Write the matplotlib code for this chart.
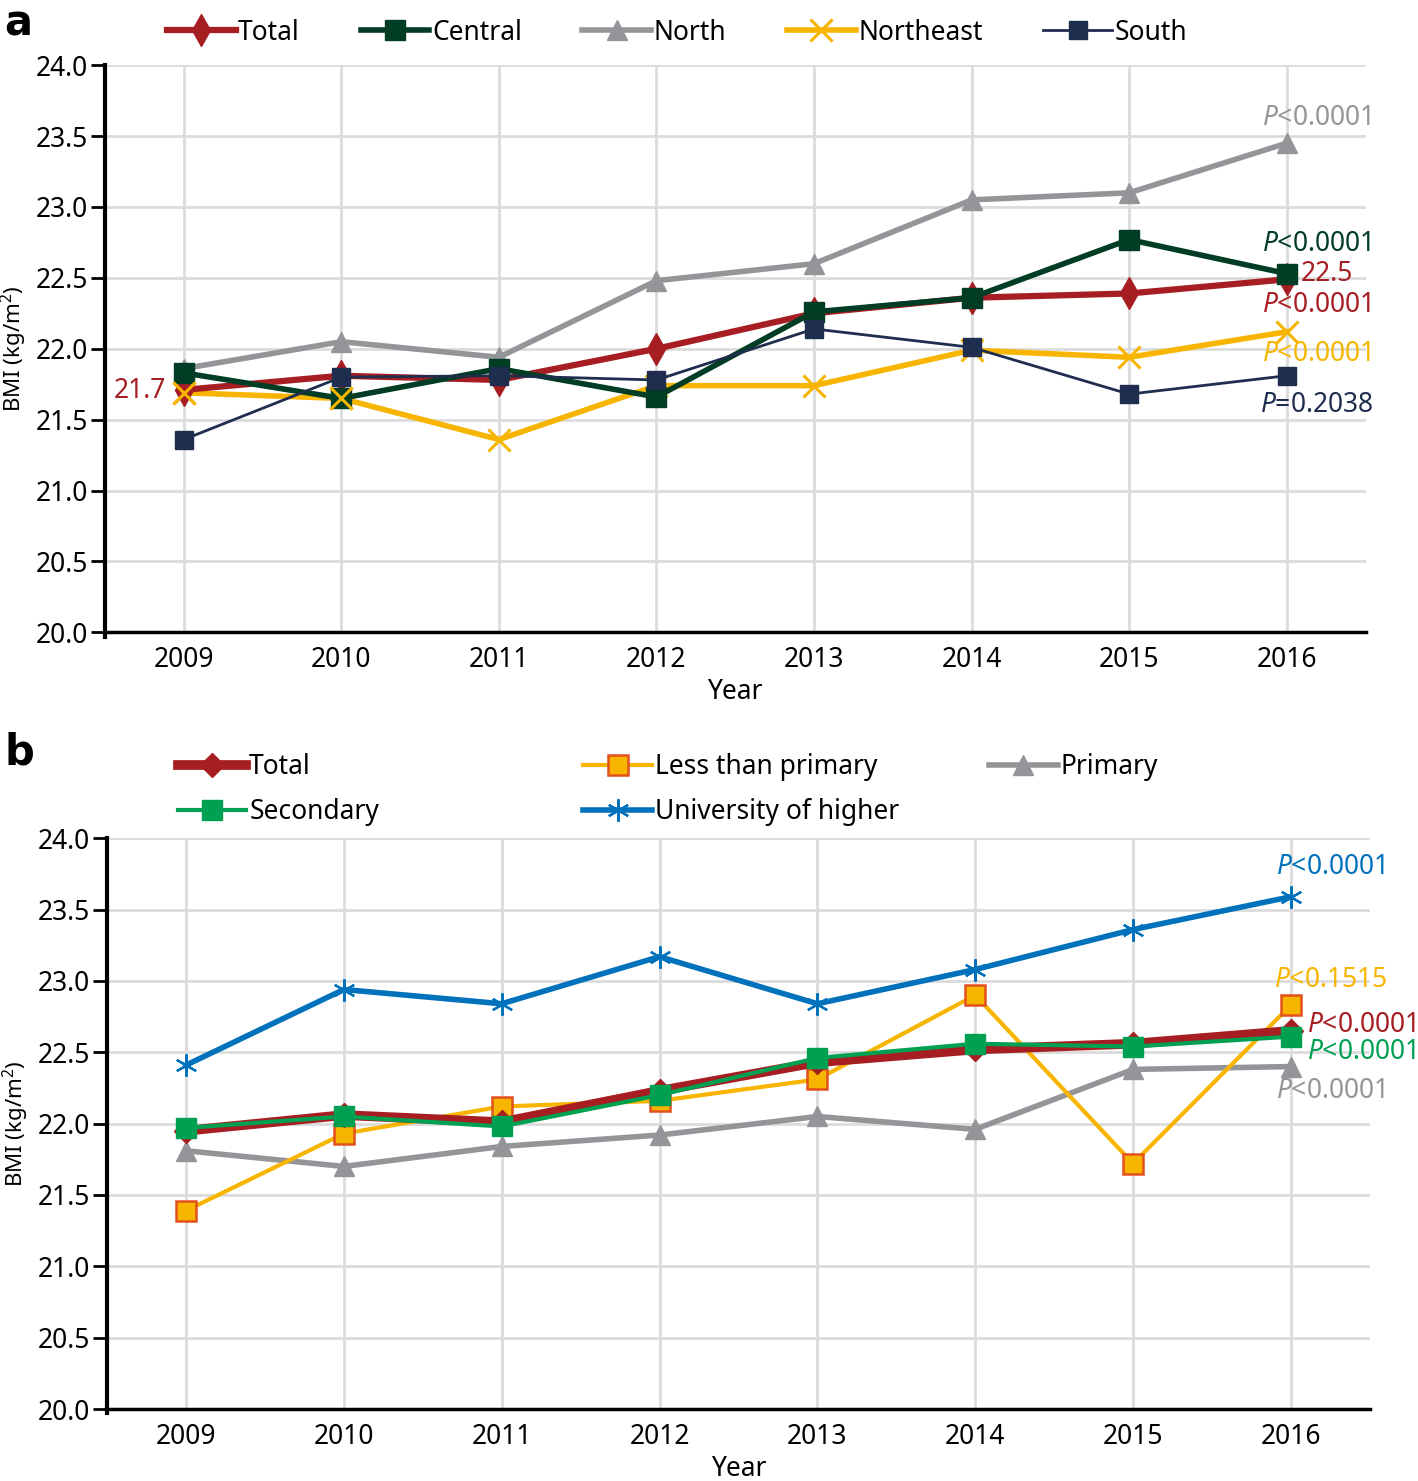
import matplotlib.pyplot as plt
from matplotlib.lines import Line2D

plt.rcParams['font.family'] = ['Noto Sans', 'DejaVu Sans']
plt.rcParams['mathtext.fontset'] = 'custom'
plt.rcParams['mathtext.rm'] = 'Noto Sans'
plt.rcParams['mathtext.it'] = 'Noto Sans:italic'

years = [2009, 2010, 2011, 2012, 2013, 2014, 2015, 2016]
yticks = [20.0, 20.5, 21.0, 21.5, 22.0, 22.5, 23.0, 23.5, 24.0]

# panel a: region
total_a = [21.71, 21.81, 21.78, 22.00, 22.25, 22.36, 22.39, 22.49]
central = [21.83, 21.65, 21.86, 21.66, 22.26, 22.36, 22.77, 22.53]
north = [21.86, 22.05, 21.94, 22.48, 22.60, 23.05, 23.10, 23.45]
northeast = [21.69, 21.65, 21.36, 21.74, 21.74, 21.99, 21.94, 22.12]
south = [21.36, 21.80, 21.81, 21.78, 22.14, 22.01, 21.68, 21.81]

# panel b: education
total_b = [21.95, 22.06, 22.01, 22.23, 22.43, 22.52, 22.56, 22.65]
less_primary = [21.39, 21.93, 22.12, 22.16, 22.31, 22.90, 21.72, 22.83]
primary = [21.81, 21.70, 21.84, 21.92, 22.05, 21.96, 22.38, 22.40]
secondary = [21.97, 22.05, 21.98, 22.20, 22.46, 22.56, 22.54, 22.61]
university = [22.41, 22.94, 22.84, 23.17, 22.84, 23.08, 23.36, 23.59]

RED = '#A61E22'
DKGREEN = '#003D24'
GRAY = '#939598'
YELLOW = '#F7B500'
NAVY = '#1F2D4E'
GREEN = '#00A052'
BLUE = '#0072BC'
ORANGE = '#E2501E'

fig = plt.figure(figsize=(14.18, 14.81), dpi=100)
ax1 = fig.add_axes([0.074, 0.573, 0.889, 0.383])
ax2 = fig.add_axes([0.0755, 0.0486, 0.8905, 0.3854])


def style_axes(ax):
    ax.set_xlim(2008.5, 2016.5)
    ax.set_ylim(20.0, 24.0)
    ax.set_xticks(years)
    ax.set_xticklabels([str(y) for y in years])
    ax.set_yticks(yticks)
    ax.set_yticklabels(['%.1f' % v for v in yticks])
    ax.grid(True, color='#DCDCDC', lw=2)
    ax.set_axisbelow(True)
    for s in ['top', 'right']:
        ax.spines[s].set_visible(False)
    ax.spines['left'].set_linewidth(3)
    ax.spines['bottom'].set_linewidth(2.5)
    ax.spines['left'].set_bounds(19.97, 24.0)
    ax.tick_params(axis='x', length=0, labelsize=19, pad=10)
    ax.tick_params(axis='y', length=10, width=2, labelsize=19, pad=2)
    ax.set_ylabel('BMI (kg/m$^2$)', fontsize=16, labelpad=5)
    ax.set_xlabel('Year', fontsize=19, labelpad=3)


style_axes(ax1)
style_axes(ax2)

# ---- panel a
ax1.plot(years, north, color=GRAY, lw=4, marker='^', ms=15, label='North', zorder=3)
ax1.plot(years, northeast, color=YELLOW, lw=4, marker='x', ms=16, mew=2.2, label='Northeast', zorder=3)
ax1.plot(years, total_a, color=RED, lw=4.5, marker='d', ms=16, label='Total', zorder=4)
ax1.plot(years, central, color=DKGREEN, lw=4, marker='s', ms=14, label='Central', zorder=5)
ax1.plot(years, south, color=NAVY, lw=2, marker='s', ms=13, label='South', zorder=6)
ax1.plot(years[:2], northeast[:2], color=YELLOW, lw=0, marker='x', ms=16, mew=2.2, zorder=7)

h1 = [
    Line2D([], [], color=RED, lw=4.5, marker='d', ms=16),
    Line2D([], [], color=DKGREEN, lw=4, marker='s', ms=14),
    Line2D([], [], color=GRAY, lw=4, marker='^', ms=15),
    Line2D([], [], color=YELLOW, lw=4, marker='x', ms=16, mew=2.2),
    Line2D([], [], color=NAVY, lw=2, marker='s', ms=13),
]
fig.legend(h1, ['Total', 'Central', 'North', 'Northeast', 'South'], ncol=5,
           loc='center left', bbox_to_anchor=(0.101, 0.978), frameon=False,
           fontsize=19, handlelength=2.6, handletextpad=0.1, columnspacing=2.3)

fs = 19
ax1.text(2008.89, 21.70, '21.7', color=RED, fontsize=fs, ha='right', va='center')
ax1.text(2016.09, 22.53, '22.5', color=RED, fontsize=fs, ha='left', va='center')
ax1.text(2016.19, 23.63, '$\\mathit{P}$<0.0001', color=GRAY, fontsize=fs, ha='center', va='center')
ax1.text(2016.19, 22.74, '$\\mathit{P}$<0.0001', color=DKGREEN, fontsize=fs, ha='center', va='center')
ax1.text(2016.19, 22.31, '$\\mathit{P}$<0.0001', color=RED, fontsize=fs, ha='center', va='center')
ax1.text(2016.19, 21.96, '$\\mathit{P}$<0.0001', color=YELLOW, fontsize=fs, ha='center', va='center')
ax1.text(2016.19, 21.60, '$\\mathit{P}$=0.2038', color=NAVY, fontsize=fs, ha='center', va='center')

# ---- panel b
ax2.plot(years, university, color=BLUE, lw=4, marker=(6, 2, 0), ms=16, mew=1.6, label='University of higher', zorder=3)
ax2.plot(years, primary, color=GRAY, lw=4, marker='^', ms=15, label='Primary', zorder=3)
ax2.plot(years, less_primary, color=YELLOW, lw=3, marker='s', ms=14, mfc=YELLOW, mec=ORANGE, mew=1.8,
         label='Less than primary', zorder=4)
ax2.plot(years, total_b, color=RED, lw=7, marker='D', ms=12, label='Total', zorder=5)
ax2.plot(years, secondary, color=GREEN, lw=3, marker='s', ms=14, label='Secondary', zorder=6)

hb_total = Line2D([], [], color=RED, lw=7, marker='D', ms=12)
hb_sec = Line2D([], [], color=GREEN, lw=3, marker='s', ms=14)
hb_less = Line2D([], [], color=YELLOW, lw=3, marker='s', ms=14, mfc=YELLOW, mec=ORANGE, mew=1.8)
hb_uni = Line2D([], [], color=BLUE, lw=4, marker=(6, 2, 0), ms=16, mew=1.6)
hb_prim = Line2D([], [], color=GRAY, lw=4, marker='^', ms=15)

leg_cols = [
    ([hb_total, hb_sec], ['Total', 'Secondary'], 0.118),
    ([hb_less, hb_uni], ['Less than primary', 'University of higher'], 0.404),
    ([hb_prim], ['Primary'], 0.690),
]
for hs, labs, x0 in leg_cols:
    fig.legend(hs, labs, loc='upper left', bbox_to_anchor=(x0, 0.4985), frameon=False,
               fontsize=19, handlelength=2.6, handletextpad=0.1, labelspacing=0.65,
               borderaxespad=0)

ax2.text(2016.25, 23.80, '$\\mathit{P}$<0.0001', color=BLUE, fontsize=fs, ha='center', va='center')
ax2.text(2016.25, 23.01, '$\\mathit{P}$<0.1515', color=YELLOW, fontsize=fs, ha='center', va='center')
ax2.text(2016.1, 22.69, '$\\mathit{P}$<0.0001', color=RED, fontsize=fs, ha='left', va='center')
ax2.text(2016.1, 22.50, '$\\mathit{P}$<0.0001', color=GREEN, fontsize=fs, ha='left', va='center')
ax2.text(2016.25, 22.23, '$\\mathit{P}$<0.0001', color=GRAY, fontsize=fs, ha='center', va='center')

fig.text(0.003, 0.984, 'a', fontsize=30, fontweight='bold', family='DejaVu Sans', va='center')
fig.text(0.003, 0.492, 'b', fontsize=30, fontweight='bold', family='DejaVu Sans', va='center')

fig.savefig('out.png', dpi=100, facecolor='white')
